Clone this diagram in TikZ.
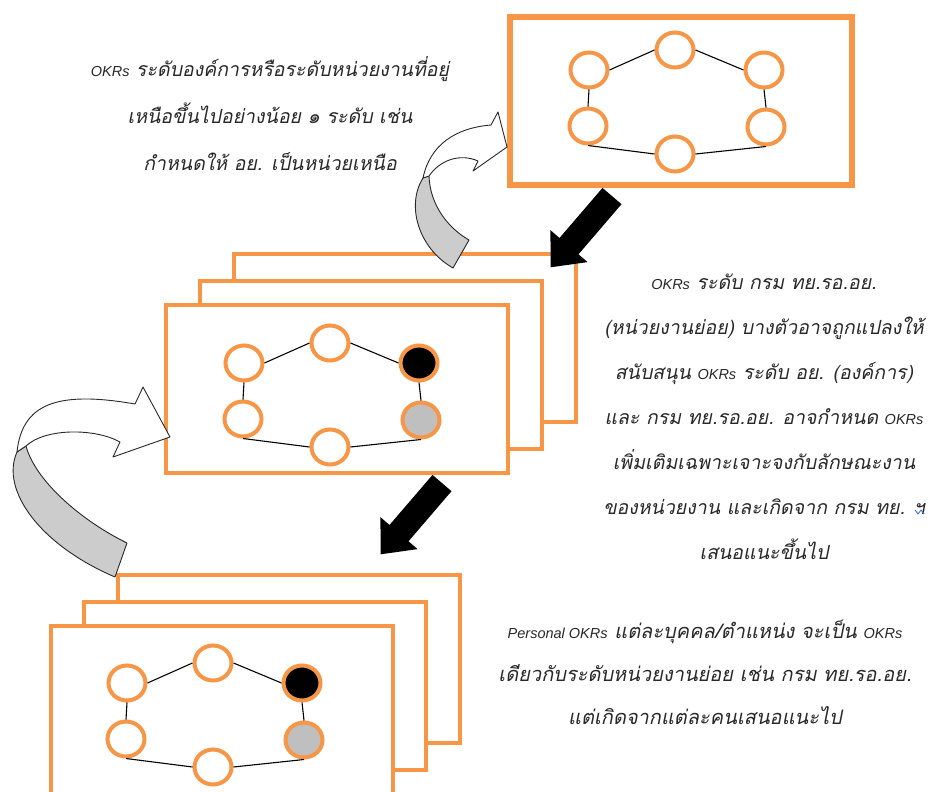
\documentclass[tikz,border=0pt]{standalone}
\usepackage{fontspec}
\newfontfamily\thaifont[Script=Thai,FakeSlant=0.2]{Loma}
\newfontfamily\latinfont{Liberation Sans}
\newcommand\okrlatin[1]{{\latinfont\itshape\fontsize{14.5}{20}\selectfont #1}}
\usetikzlibrary{shapes.geometric}
\definecolor{okrorange}{RGB}{247,150,70}
\definecolor{okrgray}{RGB}{191,191,191}
\definecolor{bandgray}{RGB}{204,204,204}
\definecolor{inkgray}{RGB}{40,40,40}
\definecolor{spellblue}{RGB}{60,110,220}

\tikzset{
  panel/.style={draw=okrorange, fill=white, line width=4.5pt, inner sep=0pt,
    outer sep=0pt, anchor=north west, minimum width=342pt, minimum height=168pt},
  dot/.style={ellipse, draw=okrorange, fill=white, line width=4pt, inner sep=0pt,
    minimum width=37pt, minimum height=35pt},
  link/.style={draw=black, line width=1.1pt},
  band/.style={draw=inkgray, fill=bandgray, line width=0.9pt, line join=round},
  bandfront/.style={draw=inkgray, fill=white, line width=0.9pt, line join=round},
  note/.style={align=center, text=inkgray, inner sep=0pt},
  ur fill/.store in=\okrurfill, ur fill=white,
  lr fill/.store in=\okrlrfill, lr fill=white,
  okr ring/.pic={
    \node[dot] (-ul) at (0,0) {};
    \node[dot] (-up) at (86,-20) {};
    \node[dot, fill=\okrurfill] (-ur) at (175,0) {};
    \node[dot] (-ll) at (-1,56) {};
    \node[dot, fill=\okrlrfill] (-lr) at (177,57) {};
    \node[dot] (-down) at (86,84) {};
    \draw[link] (-ul.east) -- (-up.west);
    \draw[link] (-up.east) -- (-ur.west);
    \draw[link] (-ul.south) -- (-ll.north);
    \draw[link] (-ur.south) -- (-lr.north);
    \draw[link] (-ll.south) -- (-down.west);
    \draw[link] (-down.east) -- (-lr.south);
  },
  block arrow/.pic={
    \fill[black] (9.5,8.2) -- (-33.5,58.3) -- (-24.4,66.1) -- (-61.3,71.3)
      -- (-61.6,34.1) -- (-52.5,42.0) -- (-9.5,-8.1) -- cycle;
  }
}

\begin{document}
\begin{tikzpicture}[x=1pt,y=-1pt]
\useasboundingbox (0,0) rectangle (929,792);
\clip (0,0) rectangle (929,792);
\fill[white] (0,0) rectangle (929,792);

% organisation level
\node[panel, line width=5.5pt] (pTop) at (510,17) {};
\pic (org) at (589,70) {okr ring};

% unit level stack
\node[panel] (pMidC) at (234,254) {};
\node[panel] (pMidB) at (200,281) {};
\node[panel] (pMidA) at (166,305) {};
\pic[ur fill=black, lr fill=okrgray] (unit) at (244,363) {okr ring};

% personal level stack
\node[panel] (pLowC) at (118,575) {};
\node[panel] (pLowB) at (84,602) {};
\node[panel] (pLowA) at (51,626) {};
\pic[ur fill=black, lr fill=okrgray] (pers) at (127,683) {okr ring};

% cascading arrows
\pic (down1) at (612,196) {block arrow};
\pic (down2) at (442,483) {block arrow};

% feedback arrows (unit -> organisation)
\filldraw[band] (423,178) .. controls (406,205) and (418,248) .. (453,268)
  -- (469,240) .. controls (448,228) and (430,205) .. (429,176) -- cycle;
\filldraw[bandfront] (423,178) .. controls (430,145) and (455,128) .. (491,125)
  -- (498,112) -- (507,147) -- (473,171) -- (478,161)
  .. controls (460,153) and (440,160) .. (429,176) -- cycle;

% feedback arrows (personal -> unit)
\filldraw[band] (17,452) .. controls (0,490) and (40,545) .. (115,577)
  -- (127,543) .. controls (80,520) and (35,480) .. (26,446) -- cycle;
\filldraw[bandfront] (17,452) .. controls (22,405) and (55,390) .. (135,404)
  -- (143,387) -- (170,437) -- (113,457) -- (120,442)
  .. controls (95,428) and (45,428) .. (26,446) -- cycle;

% explanations
\node[note, font=\thaifont\fontsize{19.5}{47}\selectfont] (noteTop) at (270,114) {%
  \okrlatin{OKRs} ระดับองค์การหรือระดับหน่วยงานที่อยู่\\
  เหนือขึ้นไปอย่างน้อย ๑ ระดับ เช่น\\
  กำหนดให้ อย. เป็นหน่วยเหนือ};

\node[note, font=\thaifont\fontsize{19.5}{45}\selectfont] (noteMid) at (764,417) {%
  \okrlatin{OKRs} ระดับ กรม ทย.รอ.อย.\\
  (หน่วยงานย่อย) บางตัวอาจถูกแปลงให้\\
  สนับสนุน \okrlatin{OKRs} ระดับ อย. (องค์การ)\\
  และ กรม ทย.รอ.อย. อาจกำหนด \okrlatin{OKRs}\\
  เพิ่มเติมเฉพาะเจาะจงกับลักษณะงาน\\
  ของหน่วยงาน และเกิดจาก กรม ทย. ฯ\\
  เสนอแนะขึ้นไป};

\node[note, font=\thaifont\fontsize{20}{43}\selectfont] (noteLow) at (705,672) {%
  \okrlatin{Personal OKRs} แต่ละบุคคล/ตำแหน่ง จะเป็น \okrlatin{OKRs}\\
  เดียวกับระดับหน่วยงานย่อย เช่น กรม ทย.รอ.อย.\\
  แต่เกิดจากแต่ละคนเสนอแนะไป};

% spelling mark under the last character of the sixth line
\draw[spellblue, line width=0.9pt, line join=round]
  (915,510) -- (918,514) -- (921,510) -- (924,514);
\end{tikzpicture}
\end{document}
